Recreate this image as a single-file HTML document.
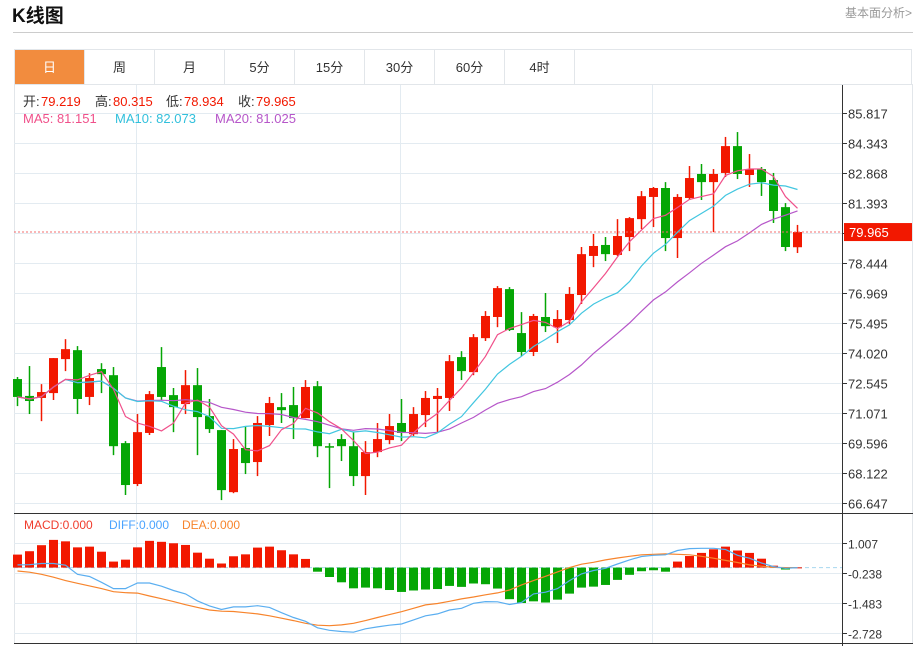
<!DOCTYPE html>
<html><head><meta charset="utf-8">
<style>
body{margin:0;width:920px;height:646px;background:#fff;font-family:"Liberation Sans","Noto Sans CJK SC",sans-serif;overflow:hidden;position:relative}
.title{position:absolute;left:12px;top:1px;font-size:19px;font-weight:bold;color:#111}
.more{position:absolute;left:845px;top:4px;font-size:12px;color:#999}
.hr{position:absolute;left:13px;top:32px;width:900px;height:1px;background:#ccc}
.tabs{position:absolute;left:14px;top:49px;width:898px;height:35px;border:1px solid #e2e6ea;border-bottom:none;box-sizing:border-box}
.tab{position:absolute;top:0;width:70px;height:35px;line-height:35px;text-align:center;font-size:13px;color:#333;border-right:1px solid #e2e6ea;box-sizing:border-box}
.tab.on{background:#f28c3e;color:#fff}
svg{position:absolute;left:0;top:0}
</style></head><body>
<div class="title">K线图</div>
<div class="more">基本面分析&gt;</div>
<div class="hr"></div>
<div class="tabs">
<div class="tab on" style="left:0">日</div>
<div class="tab" style="left:70px">周</div>
<div class="tab" style="left:140px">月</div>
<div class="tab" style="left:210px">5分</div>
<div class="tab" style="left:280px">15分</div>
<div class="tab" style="left:350px">30分</div>
<div class="tab" style="left:420px">60分</div>
<div class="tab" style="left:490px">4时</div>
</div>
<svg id="chart" width="920" height="646"></svg>
<script>
const opens=[72.74,71.91,71.81,72.05,73.72,74.16,71.86,73.23,72.93,69.59,67.58,70.09,73.33,71.95,71.51,72.44,70.92,70.23,67.18,69.35,68.66,70.48,71.36,71.46,70.82,72.39,69.44,69.79,69.44,67.97,69.15,69.74,70.58,70.03,70.97,71.76,71.81,73.82,73.08,74.75,75.79,77.16,75.00,74.07,75.79,75.29,75.64,76.87,78.79,79.33,78.84,79.72,80.60,81.69,82.13,79.67,81.64,82.82,82.42,82.87,84.19,82.77,83.06,82.52,81.19,79.219];
const highs=[72.84,73.38,72.49,73.77,74.70,74.36,73.03,73.52,73.33,69.69,71.02,72.15,74.31,72.30,73.18,73.28,71.76,70.23,69.79,70.43,70.92,71.86,72.05,72.35,72.69,72.64,69.59,70.03,70.13,69.69,70.58,71.02,71.76,71.36,72.15,72.30,73.92,74.11,74.95,76.08,77.31,77.26,76.03,75.94,76.97,76.13,77.26,79.23,79.87,79.72,80.60,80.70,81.98,82.18,82.42,81.83,83.21,83.31,83.06,84.64,84.88,83.80,83.16,82.87,81.39,80.315];
const lows=[71.41,71.02,70.67,71.71,73.13,71.02,71.46,72.05,69.00,67.04,67.48,69.99,71.71,70.13,71.02,69.00,70.09,66.79,67.13,68.07,67.97,69.94,70.58,69.79,70.82,68.90,67.38,68.71,67.48,67.04,68.90,69.54,69.69,69.94,70.38,70.13,71.17,72.69,72.93,74.61,75.29,75.10,73.87,73.87,75.05,74.51,75.44,76.43,78.24,78.54,78.79,79.03,80.11,80.21,79.03,78.69,81.54,81.54,79.96,82.67,82.57,82.18,81.74,80.41,79.03,78.934];
const closes=[71.86,71.66,72.10,73.77,74.21,71.76,72.79,72.98,69.44,67.53,70.13,72.00,71.86,71.36,72.44,70.87,70.28,67.28,69.30,68.61,70.58,71.56,71.21,70.82,72.35,69.44,69.39,69.44,67.97,69.15,69.79,70.43,70.09,71.02,71.81,71.91,73.62,73.13,74.80,75.84,77.21,75.15,74.07,75.84,75.34,75.69,76.92,78.88,79.28,78.88,79.77,80.65,81.73,82.13,79.67,81.69,82.62,82.42,82.82,84.19,82.82,83.06,82.42,81.00,79.23,79.965];
const macdHist=[0.54,0.68,0.93,1.15,1.09,0.84,0.87,0.66,0.25,0.33,0.84,1.11,1.07,1.01,0.94,0.62,0.37,0.17,0.47,0.55,0.83,0.87,0.72,0.55,0.36,-0.17,-0.39,-0.61,-0.86,-0.83,-0.86,-0.93,-1.01,-0.95,-0.91,-0.89,-0.76,-0.80,-0.66,-0.69,-0.87,-1.31,-1.47,-1.40,-1.45,-1.33,-1.08,-0.83,-0.79,-0.72,-0.51,-0.30,-0.15,-0.11,-0.17,0.25,0.48,0.61,0.76,0.87,0.71,0.61,0.37,0.08,-0.08,0.01];
const diffLine=[0.11,0.12,0.17,0.17,0.10,-0.28,-0.37,-0.61,-0.87,-0.87,-0.64,-0.64,-0.77,-0.95,-1.09,-1.38,-1.59,-1.74,-1.63,-1.63,-1.58,-1.65,-1.87,-2.07,-2.23,-2.50,-2.60,-2.65,-2.68,-2.54,-2.46,-2.39,-2.34,-2.17,-2.00,-1.92,-1.76,-1.69,-1.48,-1.41,-1.42,-1.53,-1.45,-1.09,-1.02,-0.87,-0.54,-0.26,-0.12,-0.03,0.15,0.32,0.46,0.51,0.53,0.71,0.79,0.80,0.80,0.75,0.51,0.39,0.19,0.04,-0.03,0.0];
const deaLine=[-0.14,-0.19,-0.28,-0.40,-0.54,-0.65,-0.76,-0.87,-1.00,-1.04,-1.06,-1.18,-1.29,-1.41,-1.54,-1.65,-1.76,-1.81,-1.82,-1.87,-1.92,-2.00,-2.10,-2.20,-2.31,-2.39,-2.41,-2.38,-2.31,-2.20,-2.07,-1.95,-1.83,-1.69,-1.55,-1.49,-1.40,-1.30,-1.22,-1.13,-1.05,-0.93,-0.72,-0.54,-0.36,-0.18,0,0.14,0.22,0.32,0.40,0.47,0.53,0.55,0.57,0.55,0.53,0.47,0.39,0.30,0.21,0.11,0.06,0.01,0,0];
const priceTicks=[85.817,84.343,82.868,81.393,79.918,78.444,76.969,75.495,74.020,72.545,71.071,69.596,68.122,66.647];
const macdTicks=[1.007,-0.238,-1.483,-2.728];
const lastClose=79.965;

const NS="http://www.w3.org/2000/svg";
const svg=document.getElementById('chart');
function mk(tag,attrs,parent){const e=document.createElementNS(NS,tag);for(const k in attrs)e.setAttribute(k,attrs[k]);(parent||svg).appendChild(e);return e;}
const RED="#f21800",GREEN="#05a605";
const xOf=i=>17+i*12;
const yP=v=>113+(85.817-v)*(390/(85.817-66.647));
const yM=v=>567.6-v*(30/1.245);
const L=14,R=842;

// frame
let e;
e=mk('rect',{x:14.5,y:84.5,width:898,height:559,fill:'none',stroke:'#e2e6ea'});


// grids
priceTicks.forEach((t,i)=>{const y=Math.round(yP(t))+0.5;
 e=mk('line',{x1:L,x2:R,y1:y,y2:y,stroke:'#e3ebf1'});
 
 
 mk('line',{x1:R,x2:R+5,y1:y,y2:y,stroke:'#333'});
 if(Math.abs(t-79.918)>0.01){e=mk('text',{x:848,y:y+5,'font-size':13,fill:'#333'});e.textContent=t.toFixed(3);
 
 }
});
macdTicks.forEach(t=>{const y=Math.round(yM(t))+0.5;
 e=mk('line',{x1:L,x2:R,y1:y,y2:y,stroke:'#e3ebf1'});
 
 
 mk('line',{x1:R,x2:R+5,y1:y,y2:y,stroke:'#333'});
 e=mk('text',{x:848,y:y+5,'font-size':12,fill:'#333'});e.textContent=t.toFixed(3);
 
 
});
[136.5,400.5,652.5].forEach(x=>{
 e=mk('line',{x1:x,x2:x,y1:85,y2:643,stroke:'#e3ebf1'});
 
 
});
// separators
e=mk('line',{x1:14,x2:913,y1:513.5,y2:513.5,stroke:'#333'});


e=mk('line',{x1:14,x2:913,y1:643.5,y2:643.5,stroke:'#333'});


e=mk('line',{x1:842.5,x2:842.5,y1:85,y2:646,stroke:'#333'});


// zero line
e=mk('line',{x1:L,x2:R,y1:yM(0),y2:yM(0),stroke:'#a8d8ef','stroke-dasharray':'4,3'});



// candles
closes.forEach((c,i)=>{const o=opens[i],x=xOf(i),up=c>=o,col=up?RED:GREEN;
 const g=mk('g',{});
 
 
 mk('line',{x1:x+0.5,x2:x+0.5,y1:yP(highs[i]),y2:yP(lows[i]),stroke:col,'stroke-width':1.5},g);
 const t=yP(Math.max(o,c)),b=yP(Math.min(o,c));
 mk('rect',{x:x-4,y:t,width:9,height:Math.max(1.5,b-t),fill:col},g);
});
// MAs
function ma(n){return closes.map((_,i)=>{const s=Math.max(0,i-n+1);let t=0;for(let k=s;k<=i;k++)t+=closes[k];return t/(i-s+1);});}
function poly(vals,fy,col,name){const p=vals.map((v,i)=>xOf(i)+0.5+','+fy(v).toFixed(1)).join(' ');
 const el=mk('polyline',{points:p,fill:'none',stroke:col,'stroke-width':1.2});
 
 }
poly(ma(20),yP,'#b656c9','ma20-line');
poly(ma(10),yP,'#42c6e0','ma10-line');
poly(ma(5),yP,'#f0508a','ma5-line');
// last price line
const yl=yP(lastClose);
e=mk('line',{x1:L,x2:R,y1:yl,y2:yl,stroke:'#f36c6c','stroke-dasharray':'2,2'});


e=mk('rect',{x:844,y:yl-9,width:68,height:18,fill:'#f21800'});


e=mk('text',{x:849,y:yl+5,'font-size':13,fill:'#fff'});e.textContent=lastClose.toFixed(3);



// MACD bars
macdHist.forEach((v,i)=>{const y0=yM(0),y1=yM(v);
 const el=mk('rect',{x:xOf(i)-4,y:Math.min(y0,y1),width:9,height:Math.max(1,Math.abs(y1-y0)),fill:v>=0?RED:GREEN});
 
 
});
poly(deaLine,yM,'#f7842c','dea-line');
poly(diffLine,yM,'#5aaef0','diff-line');

// legends
function txt(x,y,s,col,size,name){const el=mk('text',{x:x,y:y,'font-size':size,fill:col});el.textContent=s;
 
 }
txt(23,106,'开:','#333',13,'open-key');txt(41,106,'79.219',RED,13,'open-value');
txt(95,106,'高:','#333',13,'high-key');txt(113,106,'80.315',RED,13,'high-value');
txt(166,106,'低:','#333',13,'low-key');txt(184,106,'78.934',RED,13,'low-value');
txt(238,106,'收:','#333',13,'close-key');txt(256,106,'79.965',RED,13,'close-value');
txt(23,123,'MA5: 81.151','#f0508a',13,'ma5-legend');
txt(115,123,'MA10: 82.073','#32c0dc',13,'ma10-legend');
txt(215,123,'MA20: 81.025','#b656c9',13,'ma20-legend');
txt(24,529,'MACD:0.000','#f03c2c',12,'macd-legend');
txt(109,529,'DIFF:0.000','#4aa3ff',12,'diff-legend');
txt(182,529,'DEA:0.000','#f7842c',12,'dea-legend');
</script>
</body></html>
